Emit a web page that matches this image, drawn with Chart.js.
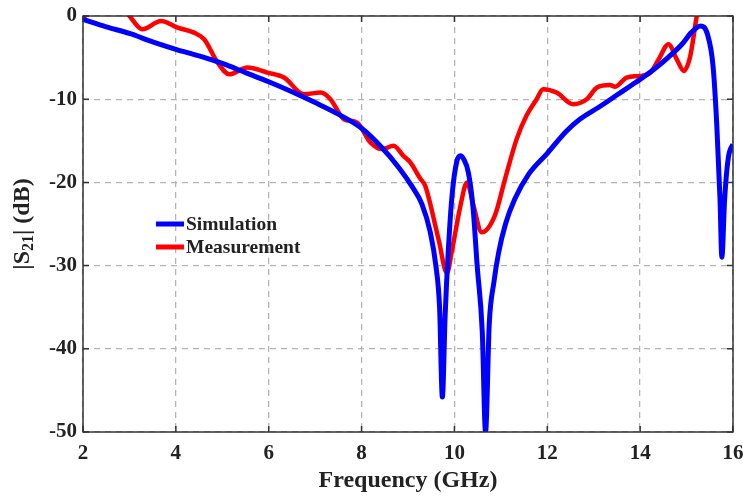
<!DOCTYPE html>
<html>
<head>
<meta charset="utf-8">
<script src="https://cdn.jsdelivr.net/npm/chart.js@4.4.1/dist/chart.umd.min.js"></script>
<style>
  html, body { margin: 0; padding: 0; background: #fff; }
  #wrap { width: 743px; height: 497px; }
</style>
</head>
<body>
<div id="wrap"><canvas id="s21Chart" width="743" height="497"></canvas></div>
<script>
// S21 data (frequency in GHz, magnitude in dB)
const simFreq = [2.0, 2.5, 3.0, 3.5, 4.0, 4.5, 5.0, 5.5, 6.0, 6.5, 7.0, 7.5, 8.0, 8.4, 8.8, 9.1, 9.3, 9.48, 9.6, 9.68, 9.74,
  9.8, 9.87, 9.95, 10.05, 10.13, 10.2, 10.3, 10.4, 10.49, 10.6, 10.67, 10.75, 10.85, 10.95, 11.1, 11.3, 11.6, 12.0, 12.4,
  12.7, 13.1, 13.5, 13.9, 14.3, 14.6, 14.9, 15.1, 15.3, 15.45, 15.57, 15.65, 15.72, 15.76, 15.82, 15.9, 16.0];
const simDb = [-0.4, -1.3, -2.1, -3.1, -4.0, -4.8, -5.7, -6.8, -7.9, -9.1, -10.4, -11.8, -13.5, -15.6, -18.2, -20.6, -22.6, -26, -30, -35, -45.8,
  -36, -28, -21.5, -17.5, -16.8, -17.2, -18.8, -23, -30, -38, -50, -37, -32, -28.5, -25, -22, -19, -16.5, -13.9,
  -12.4, -11, -9.5, -8, -6.4, -5.0, -3.4, -2.0, -1.2, -2.2, -6, -13, -22, -29, -22, -17, -15.4];

const measFreq = [2.0, 2.2, 2.6, 2.9, 3.0, 3.28, 3.68, 4.04, 4.39, 4.61, 4.9, 5.15, 5.54, 5.97, 6.33, 6.76, 7.12, 7.33, 7.62, 7.9,
  8.19, 8.44, 8.69, 8.9, 9.05, 9.27, 9.37, 9.66, 9.84, 9.94, 10.13, 10.27, 10.41, 10.59, 10.87, 11.09, 11.34, 11.55, 11.77,
  11.91, 12.2, 12.56, 12.85, 13.07, 13.35, 13.46, 13.71, 14.0, 14.22, 14.4, 14.61, 14.79, 14.94, 15.08, 15.22, 15.3];
const measDb = [-0.3, 1.0, 2.0, 0.6, 0, -1.6, -0.6, -1.4, -2.0, -2.8, -5.6, -7.0, -6.2, -6.8, -7.4, -9.4, -9.2, -10, -12.4, -12.8,
  -15.2, -16, -15.6, -16.8, -17.6, -19.6, -20.4, -26.9, -30.9, -28.4, -22.8, -20, -22.8, -26, -24, -19.6, -14.8, -12, -10,
  -8.8, -9.2, -10.6, -10, -8.6, -8.3, -8.5, -7.4, -7.2, -6.8, -5.2, -3.4, -5.2, -6.6, -4.8, 0, 2];

const xTicks = [2, 4, 6, 8, 10, 12, 14, 16];
const yTicks = [0, -10, -20, -30, -40, -50];

const seriesNames = ["Simulation", "Measurement"];
const seriesColors = ["#0000ff", "#ff0000"];

const FONT = "'Liberation Serif', 'Times New Roman', serif";

function toPoints(xs, ys) {
  return xs.map((x, i) => ({ x: x, y: ys[i] }));
}

// frame, inward ticks, y title with subscript and the in-plot legend
const decorations = {
  id: "decorations",
  afterDraw(chart) {
    const ctx = chart.ctx;
    const area = chart.chartArea;
    const xs = chart.scales.x;
    const ys = chart.scales.y;
    ctx.save();

    // box around the plot
    ctx.strokeStyle = "#333";
    ctx.lineWidth = 1.5;
    ctx.strokeRect(area.left, area.top, area.right - area.left, area.bottom - area.top);

    // inward ticks on all four sides
    const len = 6;
    ctx.beginPath();
    xTicks.forEach((v) => {
      const px = xs.getPixelForValue(v);
      ctx.moveTo(px, area.bottom);
      ctx.lineTo(px, area.bottom - len);
      ctx.moveTo(px, area.top);
      ctx.lineTo(px, area.top + len);
    });
    yTicks.forEach((v) => {
      const py = ys.getPixelForValue(v);
      ctx.moveTo(area.left, py);
      ctx.lineTo(area.left + len, py);
      ctx.moveTo(area.right, py);
      ctx.lineTo(area.right - len, py);
    });
    ctx.stroke();

    // y axis title: |S21| (dB)
    ctx.translate(23, (area.top + area.bottom) / 2);
    ctx.rotate(-Math.PI / 2);
    ctx.fillStyle = "#222";
    ctx.textBaseline = "middle";
    const big = "bold 24px " + FONT;
    const small = "bold 16px " + FONT;
    const parts = [["|S", big, 0], ["21", small, 6], ["| (dB)", big, 0]];
    let total = 0;
    parts.forEach((p) => { ctx.font = p[1]; total += ctx.measureText(p[0]).width; });
    let cx = -total / 2;
    parts.forEach((p) => {
      ctx.font = p[1];
      ctx.fillText(p[0], cx, p[2]);
      cx += ctx.measureText(p[0]).width;
    });
    ctx.setTransform(1, 0, 0, 1, 0, 0);

    // legend
    ctx.font = "bold 19.5px " + FONT;
    ctx.textBaseline = "middle";
    ctx.textAlign = "left";
    const lx = 156, ly = [224, 247];
    seriesNames.forEach((name, i) => {
      ctx.strokeStyle = seriesColors[i];
      ctx.lineWidth = 5;
      ctx.beginPath();
      ctx.moveTo(lx, ly[i]);
      ctx.lineTo(lx + 28, ly[i]);
      ctx.stroke();
      ctx.fillStyle = "#222";
      ctx.fillText(name, lx + 30, ly[i] + 1);
    });
    ctx.restore();
  },
};

const ctx = document.getElementById("s21Chart").getContext("2d");
new Chart(ctx, {
  type: "line",
  data: {
    datasets: [
      {
        label: seriesNames[0],
        data: toPoints(simFreq, simDb),
        borderColor: seriesColors[0],
        borderWidth: 5,
        pointRadius: 0,
        cubicInterpolationMode: "monotone",
      },
      {
        label: seriesNames[1],
        data: toPoints(measFreq, measDb),
        borderColor: seriesColors[1],
        borderWidth: 4.5,
        pointRadius: 0,
        cubicInterpolationMode: "monotone",
      },
    ],
  },
  options: {
    responsive: false,
    animation: false,
    layout: { padding: { top: 16, right: 10, left: 0, bottom: 0 } },
    plugins: {
      legend: { display: false },
      tooltip: { enabled: false },
    },
    scales: {
      x: {
        type: "linear",
        min: 2,
        max: 16,
        afterBuildTicks: (s) => { s.ticks = xTicks.map((v) => ({ value: v })); },
        afterFit: (s) => { s.height = 65; s.paddingLeft = 0; s.paddingRight = 0; },
        grid: { color: "#b4b4b4", lineWidth: 1.3, drawTicks: false },
        border: { display: false, dash: [6, 5] },
        ticks: { color: "#222", font: { family: FONT, size: 21, weight: "bold" }, padding: 9, maxRotation: 0 },
        title: {
          display: true,
          text: "Frequency (GHz)",
          color: "#222",
          font: { family: FONT, size: 24, weight: "bold" },
          padding: { top: 0, bottom: 2 },
        },
      },
      y: {
        min: -50,
        max: 0,
        afterBuildTicks: (s) => { s.ticks = yTicks.map((v) => ({ value: v })); },
        afterFit: (s) => { s.width = 83; s.paddingTop = 0; s.paddingBottom = 0; },
        grid: { color: "#b4b4b4", lineWidth: 1.3, drawTicks: false },
        border: { display: false, dash: [6, 5] },
        ticks: { color: "#222", font: { family: FONT, size: 21, weight: "bold" }, padding: 6 },
      },
    },
  },
  plugins: [decorations],
});
</script>
</body>
</html>
